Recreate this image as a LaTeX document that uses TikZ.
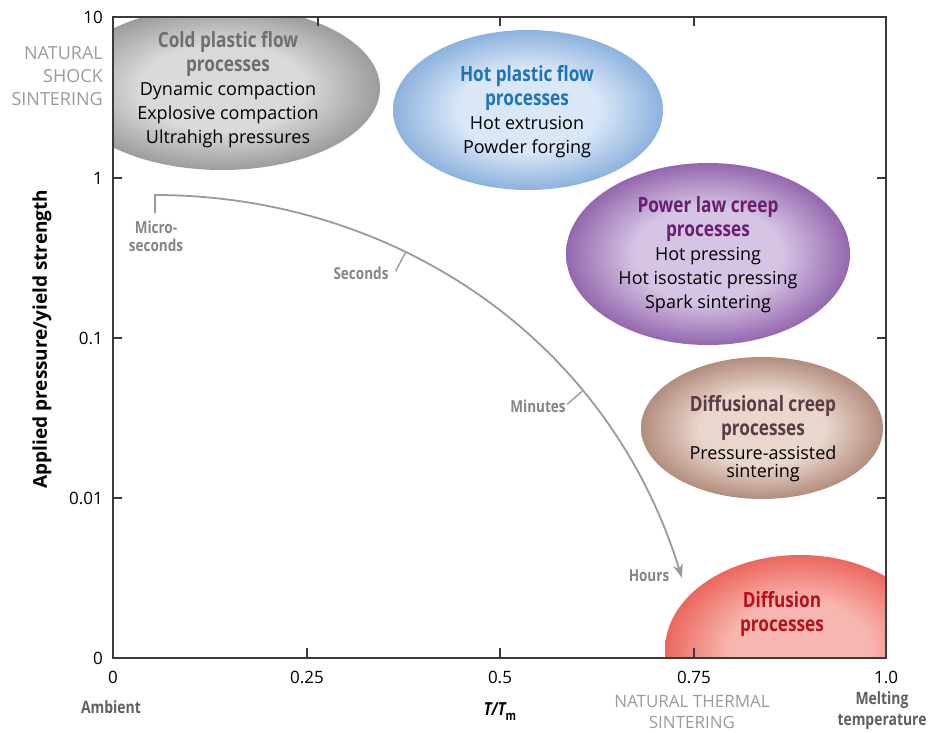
\documentclass[tikz,border=0pt]{standalone}
\usepackage{fontspec}
\setmainfont{Open Sans}
\newfontfamily\cond[FakeStretch=0.82]{Open Sans}
\usetikzlibrary{arrows.meta}

\definecolor{axisgray}{HTML}{3A3A3A}
\definecolor{curvegray}{HTML}{9A9A9A}
\definecolor{timegray}{HTML}{858585}
\definecolor{faintgray}{HTML}{9B9B9B}
\definecolor{darklabel}{HTML}{5E5F61}
\definecolor{coldin}{HTML}{DADADA}
\definecolor{coldout}{HTML}{9C9C9C}
\definecolor{coldtitle}{HTML}{6D6E71}
\definecolor{hotin}{HTML}{DAE7F7}
\definecolor{hotout}{HTML}{8CB2DE}
\definecolor{hottitle}{HTML}{1C75BC}
\definecolor{powerin}{HTML}{D5C4E4}
\definecolor{powerout}{HTML}{9467AE}
\definecolor{powertitle}{HTML}{6B1D6F}
\definecolor{dcin}{HTML}{E9D6CC}
\definecolor{dcout}{HTML}{B38D7D}
\definecolor{dctitle}{HTML}{5A3A45}
\definecolor{diffin}{HTML}{F8B6B0}
\definecolor{diffout}{HTML}{EC675D}
\definecolor{difftitle}{HTML}{B3121C}

\pgfdeclareradialshading[blobin,blobout]{blob}{\pgfpoint{0bp}{0bp}}%
  {color(0bp)=(blobin); color(13bp)=(blobin); color(25bp)=(blobout); color(50bp)=(blobout)}

\newcommand{\ttl}[2]{\textcolor{#1}{\cond\bfseries\fontsize{21}{24}\selectfont #2}}

\begin{document}
\begin{tikzpicture}[x=1pt, y=-1pt,
	every node/.style={font=\fontsize{18}{24}\selectfont, inner sep=0pt},
	blob/.style 2 args={shading=blob, /utils/exec={\colorlet{blobin}{#1}\colorlet{blobout}{#2}}},
	axisline/.style={axisgray, line width=1.4pt},
	timeline/.style={curvegray, line width=1.8pt},
	timelabel/.style={timegray, font=\cond\bfseries\fontsize{16.5}{18}\selectfont},
	ticklabel/.style={font=\fontsize{17}{20}\selectfont}]
	\useasboundingbox (0,0) rectangle (931,733);

	% process regions
	\begin{scope}
		\clip (113,17) rectangle (886,658);
		\shade[blob={coldin}{coldout}] (222,88) ellipse [x radius=158, y radius=82];
		\shade[blob={diffin}{diffout}] (800,650) ellipse [x radius=135, y radius=95];
	\end{scope}
	\shade[blob={hotin}{hotout}] (528,110) ellipse [x radius=135, y radius=80];
	\shade[blob={powerin}{powerout}] (708,254) ellipse [x radius=142, y radius=91];
	\shade[blob={dcin}{dcout}] (762,428) ellipse [x radius=121, y radius=71];

	\node[align=center] (cold) at (228,90) {\ttl{coldtitle}{Cold plastic flow}\\\ttl{coldtitle}{processes}\\Dynamic compaction\\Explosive compaction\\Ultrahigh pressures};
	\node[align=center] (hotflow) at (527,112) {\ttl{hottitle}{Hot plastic flow}\\\ttl{hottitle}{processes}\\Hot extrusion\\Powder forging};
	\node[align=center] (creep) at (708,255) {\ttl{powertitle}{Power law creep}\\\ttl{powertitle}{processes}\\Hot pressing\\Hot isostatic pressing\\Spark sintering};
	\node[align=center] (diffcreep) at (763,439) {\ttl{dctitle}{Diffusional creep}\\\ttl{dctitle}{processes}\\Pressure-assisted\\[-6pt]sintering};
	\node[align=center] (diffusion) at (782,614) {\ttl{difftitle}{Diffusion}\\\ttl{difftitle}{processes}};

	% frame and ticks
	\draw[axisline] (113,17) rectangle (886,658);
	\foreach \x in {307,500,694}
		\draw[axisline] (\x,658) -- (\x,648);
	\foreach \x in {318,500,694}
		\draw[axisline] (\x,17) -- (\x,26);
	\foreach \y in {178,338,498} {
		\draw[axisline] (113,\y) -- (122,\y);
		\draw[axisline] (886,\y) -- (877,\y);
	}
	\foreach \y/\t [count=\i] in {17/10, 178/1, 338/0.1, 498/0.01, 658/0}
		\node[ticklabel, anchor=east] (ytick\i) at (103,\y) {\t};
	\foreach \x/\t [count=\i] in {113/0, 307/0.25, 500/0.5, 694/0.75, 886/1.0}
		\node[ticklabel] (xtick\i) at (\x,677) {\t};

	% axis captions
	\node[rotate=90, font=\bfseries\fontsize{19}{20}\selectfont] (ylabel) at (42,339) {Applied pressure/yield strength};
	\node[align=right, anchor=east, faintgray, font=\fontsize{18}{23}\selectfont] (shock) at (103,76) {NATURAL\\SHOCK\\SINTERING};
	\node[darklabel, font=\cond\bfseries\fontsize{17}{22}\selectfont] (ambient) at (111,707) {Ambient};
	\node (xlabel) at (500,712) {\cond\bfseries\itshape T/T\raisebox{-5pt}{\upshape\fontsize{13}{13}\selectfont m}};
	\node[align=center, faintgray, font=\fontsize{17}{21}\selectfont] (thermal) at (692,712) {NATURAL THERMAL\\SINTERING};
	\node[align=center, darklabel, font=\cond\bfseries\fontsize{17}{21}\selectfont] (melting) at (882,711) {Melting\\temperature};

	% time line
	\node[timelabel, align=center] (micro) at (156,236) {Micro-\\seconds};
	\node[timelabel] (seclab) at (361,273) {Seconds};
	\node[timelabel] (minlab) at (538,406) {Minutes};
	\node[timelabel] (hourlab) at (649,576) {Hours};
	\coordinate (tstart) at (155,213);
	\coordinate (tend) at (682,578);
	\draw[timeline, -{Stealth[length=14pt, width=10pt]}] (tstart) -- (155,195)
		.. controls (385,195) and (605,330) .. (tend)
		coordinate[pos=0.38] (tsec) coordinate[pos=0.71] (tmin);
	\path (tsec) ++(-10,19) coordinate (tsecend);
	\path (tmin) ++(-15,13) coordinate (tminend);
	\draw[timeline, line width=1.4pt] (tsec) -- (tsecend);
	\draw[timeline, line width=1.4pt] (tmin) -- (tminend);
\end{tikzpicture}
\end{document}
